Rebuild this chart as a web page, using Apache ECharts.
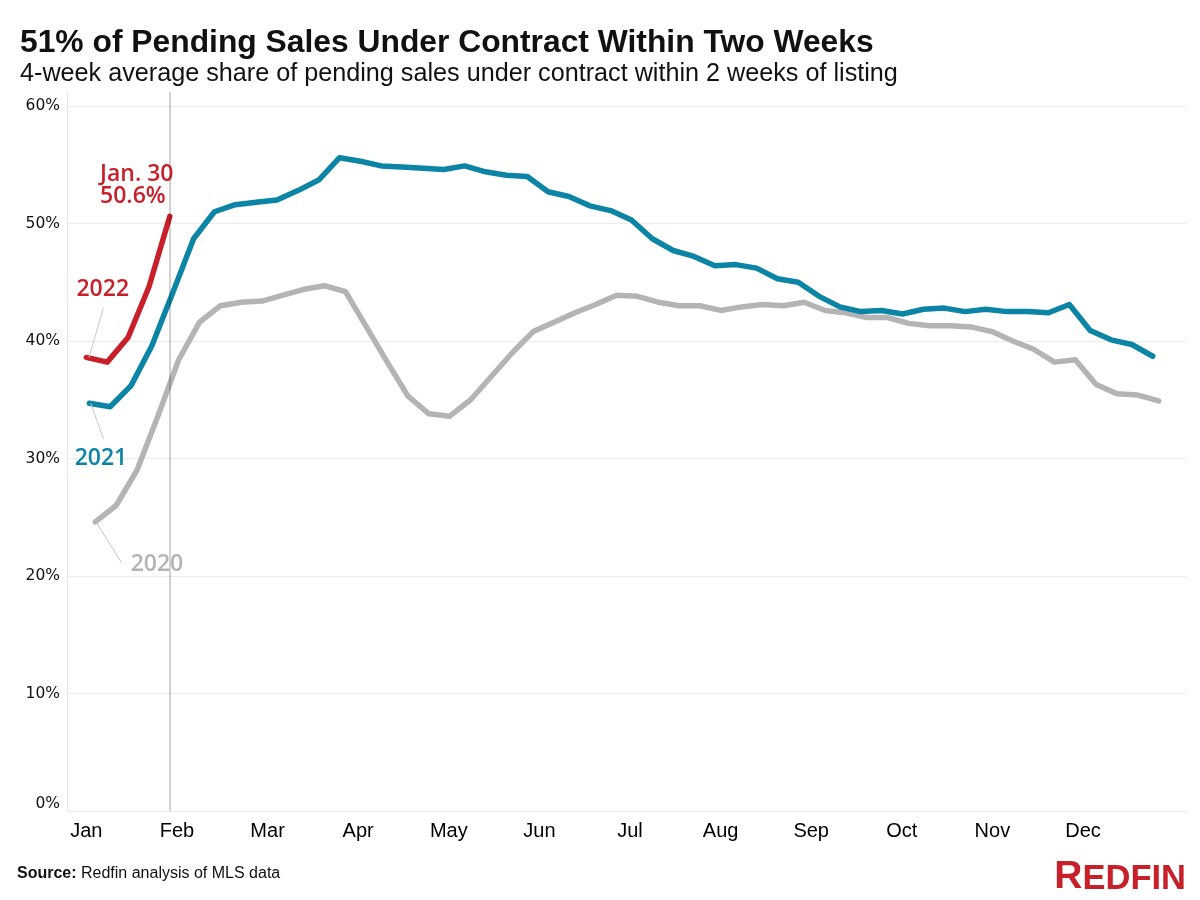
<!DOCTYPE html>
<html>
<head>
<meta charset="utf-8">
<script src="https://cdn.jsdelivr.net/npm/echarts@6/dist/echarts.min.js"></script>
<style>
html,body{margin:0;padding:0;background:#fff;}
#chart{width:1200px;height:900px;}
</style>
</head>
<body>
<div id="chart"></div>
<script>
// ---- data ----
const months = ['Jan','Feb','Mar','Apr','May','Jun','Jul','Aug','Sep','Oct','Nov','Dec'];
const yTicks = [0, 10, 20, 30, 40, 50, 60];
const firstWeek2020 = '2020-01-05';
const firstWeek2021 = '2021-01-03';
const firstWeek2022 = '2022-01-02';
const values2020 = [24.6, 26.0, 29.0, 33.6, 38.4, 41.6, 43.0, 43.3, 43.4, 43.9, 44.4, 44.7, 44.2, 41.2, 38.2, 35.3, 33.8, 33.6, 35.0, 37.0, 39.0, 40.8, 41.6, 42.4, 43.1, 43.9, 43.8, 43.3, 43.0, 43.0, 42.6, 42.9, 43.1, 43.0, 43.3, 42.6, 42.4, 42.0, 42.0, 41.5, 41.3, 41.3, 41.2, 40.8, 40.0, 39.3, 38.2, 38.4, 36.3, 35.5, 35.4, 34.9];
const values2021 = [34.7, 34.4, 36.2, 39.6, 44.1, 48.7, 51.0, 51.6, 51.8, 52.0, 52.8, 53.7, 55.6, 55.3, 54.9, 54.8, 54.7, 54.6, 54.9, 54.4, 54.1, 54.0, 52.7, 52.3, 51.5, 51.1, 50.3, 48.7, 47.7, 47.2, 46.4, 46.5, 46.2, 45.3, 45.0, 43.8, 42.9, 42.5, 42.6, 42.3, 42.7, 42.8, 42.5, 42.7, 42.5, 42.5, 42.4, 43.1, 40.9, 40.1, 39.7, 38.7];
const values2022 = [38.6, 38.2, 40.3, 44.6, 50.6];

// ---- helpers ----
function dayOfYear(iso) {
  const [y, m, d] = iso.split('-').map(Number);
  return (Date.UTC(y, m - 1, d) - Date.UTC(y, 0, 1)) / 864e5;
}
function weekly(startIso, vals) {
  const d0 = dayOfYear(startIso);
  return vals.map((v, i) => [d0 + 7 * i, v]);
}
const data2020 = weekly(firstWeek2020, values2020);
const data2021 = weekly(firstWeek2021, values2021);
const data2022 = weekly(firstWeek2022, values2022);
const lastDay2022 = data2022[data2022.length - 1][0];
const monthDays = months.map((m, i) => 1 + i * 365 / 12);

const RED = '#c8202a', TEAL = '#0b84a5', GRAY = '#b4b4b4';
const annoFont = {fontFamily: 'Open Sans', fontWeight: 600, fontSize: 23};
function textPoint(coord, text, color, extra) {
  return {
    coord: coord, symbol: 'circle', symbolSize: 1,
    itemStyle: {color: 'rgba(0,0,0,0)'},
    label: Object.assign({show: true, position: 'inside', formatter: text, color: color}, annoFont, extra || {})
  };
}

const chart = echarts.init(document.getElementById('chart'), null, {renderer: 'canvas'});
chart.setOption({
  animation: false,
  backgroundColor: '#fff',
  title: [
    {text: '51% of Pending Sales Under Contract Within Two Weeks', left: 15, top: 22,
     textStyle: {fontFamily: 'Liberation Sans', fontWeight: 'bold', fontSize: 31.8, color: '#111'}},
    {text: '4-week average share of pending sales under contract within 2 weeks of listing', left: 15, top: 57,
     textStyle: {fontFamily: 'Liberation Sans', fontWeight: 'normal', fontSize: 25.2, color: '#111'}},
    {text: '{b|Source:} Redfin analysis of MLS data', left: 12, top: 861,
     textStyle: {fontFamily: 'Liberation Sans', fontWeight: 'normal', fontSize: 16, color: '#111',
       rich: {b: {fontFamily: 'Liberation Sans', fontWeight: 'bold', fontSize: 16, color: '#111'}}}},
    {text: '{r|R}{e|EDFIN}', right: 9, top: 853,
     textStyle: {rich: {
       r: {fontFamily: 'Liberation Sans', fontWeight: 'bold', fontSize: 39, color: RED, verticalAlign: 'bottom'},
       e: {fontFamily: 'Liberation Sans', fontWeight: 'bold', fontSize: 34.5, color: RED, verticalAlign: 'bottom'}}}}
  ],
  grid: {left: 67, right: 13, top: 92, bottom: 89, containLabel: false},
  xAxis: {
    type: 'value', min: -5.5, max: 370.5,
    axisLine: {show: false, onZero: false}, axisTick: {show: false}, splitLine: {show: false},
    axisLabel: {
      customValues: monthDays,
      formatter: v => months[Math.round((v - 1) / (365 / 12))],
      fontFamily: 'Liberation Sans', fontSize: 20, color: '#000', margin: 10
    }
  },
  yAxis: {
    type: 'value', min: 0, max: 61.19, interval: 10,
    axisLine: {show: true, onZero: false, lineStyle: {color: '#e6e6e6', width: 1}},
    axisTick: {show: false},
    splitLine: {show: true, showMaxLine: false, lineStyle: {color: '#ececec', width: 1}},
    axisLabel: {
      customValues: yTicks,
      formatter: v => v === 0 ? '{z|0%}' : v + '%',
      fontFamily: 'DejaVu Sans', fontSize: 15.5, color: '#111', margin: 7,
      rich: {z: {fontFamily: 'DejaVu Sans', fontSize: 15.5, color: '#111', padding: [0, 0, 14, 0]}}
    }
  },
  series: [
    {
      name: '2020', type: 'line', data: data2020, symbol: 'none', z: 2,
      lineStyle: {color: GRAY, width: 5.5, cap: 'round', join: 'round'},
      markLine: {silent: true, symbol: 'none', lineStyle: {color: '#c8c8c8', width: 1, type: 'solid'}, label: {show: false},
        data: [[{coord: [4.5, 24.5]}, {coord: [12.9, 21.1]}]]},
      markPoint: {silent: true, data: [textPoint([24.7, 20.95], '2020', GRAY)]}
    },
    {
      name: '2021', type: 'line', data: data2021, symbol: 'none', z: 3,
      lineStyle: {color: TEAL, width: 5.5, cap: 'round', join: 'round'},
      markLine: {silent: true, symbol: 'none', lineStyle: {color: '#c8c8c8', width: 1, type: 'solid'}, label: {show: false},
        data: [[{coord: [2.45, 34.7]}, {coord: [6.7, 31.7]}]]},
      markPoint: {silent: true, data: [textPoint([5.9, 30.0], '2021', TEAL)]}
    },
    {
      name: '2022', type: 'line', data: data2022, symbol: 'none', z: 4,
      lineStyle: {color: RED, width: 5.5, cap: 'round', join: 'round'},
      markLine: {silent: true, symbol: 'none', label: {show: false},
        data: [
          [{coord: [1.9, 38.6], lineStyle: {color: '#c8c8c8', width: 1, type: 'solid'}}, {coord: [6.7, 42.8]}],
          {xAxis: lastDay2022, lineStyle: {color: 'rgba(0,0,0,0.18)', width: 2, type: 'solid'}}
        ]},
      markPoint: {silent: true, data: [
        textPoint([6.5, 44.35], '2022', RED),
        textPoint([5.6, 53.27], 'Jan. 30\n' + values2022[values2022.length - 1].toFixed(1) + '%', RED, {align: 'left', lineHeight: 22})
      ]}
    }
  ]
});
</script>
</body>
</html>
